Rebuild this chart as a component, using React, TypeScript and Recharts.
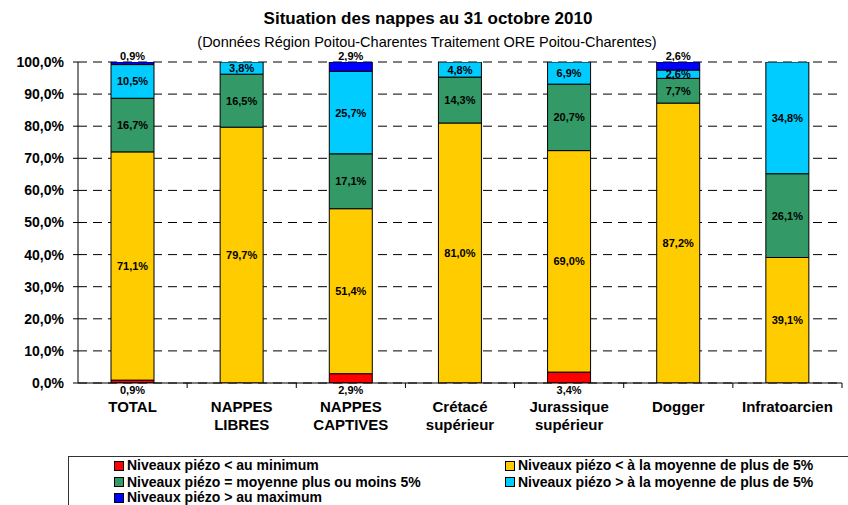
import { Bar, BarChart, CartesianGrid, LabelList, XAxis, YAxis } from 'recharts';

const categories = ['TOTAL', 'NAPPES\nLIBRES', 'NAPPES\nCAPTIVES', 'Crétacé\nsupérieur', 'Jurassique\nsupérieur', 'Dogger', 'Infratoarcien'];
const minimum = [0.9, 0, 2.9, 0, 3.4, 0, 0];
const belowAverage = [71.1, 79.7, 51.4, 81.0, 69.0, 87.2, 39.1];
const average = [16.7, 16.5, 17.1, 14.3, 20.7, 7.7, 26.1];
const aboveAverage = [10.5, 3.8, 25.7, 4.8, 6.9, 2.6, 34.8];
const maximum = [0.9, 0, 2.9, 0, 0, 2.6, 0];
const yTicks = [0, 10, 20, 30, 40, 50, 60, 70, 80, 90, 100];

const series = [
  { key: 'min', name: 'Niveaux piézo < au minimum', color: '#FF0000', values: minimum },
  { key: 'below', name: 'Niveaux piézo < à la moyenne de plus de 5%', color: '#FFCC00', values: belowAverage },
  { key: 'avg', name: 'Niveaux piézo = moyenne plus ou moins 5%', color: '#339966', values: average },
  { key: 'above', name: 'Niveaux piézo > à la moyenne de plus de 5%', color: '#00CCFF', values: aboveAverage },
  { key: 'max', name: 'Niveaux piézo > au maximum', color: '#0000FF', values: maximum },
];

const data = categories.map((name, i) => {
  const row: Record<string, any> = { name };
  series.forEach((s) => (row[s.key] = s.values[i]));
  return row;
});

const FONT = 'Arial, "Liberation Sans", sans-serif';
const W = 848;
const H = 505;
const PLOT_LEFT = 78;
const PLOT_RIGHT = 842;
const PLOT_TOP = 62;
const PLOT_BOTTOM = 383;
const BAND = (PLOT_RIGHT - PLOT_LEFT) / categories.length;

const fmt = (v: number) => v.toFixed(1).replace('.', ',') + '%';

function XTick(props: any) {
  const { x, y, payload } = props;
  const lines = String(payload.value).split('\n');
  return (
    <g>
      <line x1={x + BAND / 2} x2={x + BAND / 2} y1={PLOT_BOTTOM} y2={PLOT_BOTTOM + 5} stroke="#000" />
      <text x={x} y={y + 21} textAnchor="middle" fontFamily={FONT} fontWeight="bold" fontSize={15} fill="#000">
        {lines.map((l, i) => (
          <tspan key={i} x={x} dy={i === 0 ? 0 : 18}>
            {l}
          </tspan>
        ))}
      </text>
    </g>
  );
}

function makeLabel(kind: 'bottom' | 'top' | 'center') {
  return (props: any) => {
    const { x, y, width, height, value } = props;
    if (!value) return null;
    let ty = y + height / 2 + 4;
    if (kind === 'bottom') ty = PLOT_BOTTOM + 11;
    if (kind === 'top') ty = Math.min(y, PLOT_TOP) - 2;
    return (
      <text x={x + width / 2} y={ty} textAnchor="middle" fontFamily={FONT} fontWeight="bold" fontSize={11} fill="#000">
        {fmt(value)}
      </text>
    );
  };
}

function LegendBox() {
  const pos = [
    [113, 465],
    [504, 465],
    [113, 481.5],
    [504, 481.5],
    [113, 497],
  ];
  return (
    <div
      style={{
        position: 'absolute',
        left: 68,
        top: 456,
        width: 800,
        height: 60,
        border: '1px solid #333',
        boxSizing: 'border-box',
      }}
    >
      {series.map((s, i) => (
        <div
          key={s.key}
          style={{
            position: 'absolute',
            left: pos[i][0] - 68,
            top: pos[i][1] - 456 - 8,
            display: 'flex',
            alignItems: 'center',
            fontFamily: FONT,
            fontWeight: 'bold',
            fontSize: 14,
            whiteSpace: 'nowrap',
            lineHeight: '15px',
          }}
        >
          <span style={{ display: 'inline-block', width: 8, height: 8, background: s.color, border: '1px solid #000', marginRight: 3 }} />
          {s.name}
        </div>
      ))}
    </div>
  );
}

export default function App() {
  return (
    <div style={{ position: 'absolute', left: 0, top: 0, width: W, height: H, overflow: 'hidden', background: '#fff' }}>
      <div style={{ position: 'absolute', left: 0, top: 9, width: 856, textAlign: 'center', fontFamily: FONT, fontWeight: 'bold', fontSize: 17 }}>
        Situation des nappes au 31 octobre 2010
      </div>
      <div style={{ position: 'absolute', left: 0, top: 34, width: 854, textAlign: 'center', fontFamily: FONT, fontSize: 14.5 }}>
        (Données Région Poitou-Charentes Traitement ORE Poitou-Charentes)
      </div>
      <div style={{ position: 'absolute', left: 0, top: 0 }}>
        <BarChart
          width={W}
          height={H}
          data={data}
          barSize={43}
          margin={{ top: PLOT_TOP, right: W - PLOT_RIGHT, bottom: H - PLOT_BOTTOM - 60, left: 0 }}
        >
          <CartesianGrid vertical={false} stroke="#000" strokeDasharray="9 6" />
          <XAxis dataKey="name" height={60} interval={0} tick={<XTick />} tickLine={false} axisLine={{ stroke: '#000', strokeWidth: 1 }} />
          <YAxis
            width={PLOT_LEFT}
            domain={[0, 100]}
            ticks={yTicks}
            allowDataOverflow
            tickFormatter={fmt}
            tick={{ fontFamily: FONT, fontWeight: 'bold', fontSize: 14, fill: '#000' }}
            tickSize={5}
            tickMargin={9}
            tickLine={{ stroke: '#000' }}
            axisLine={{ stroke: '#000' }}
          />
          {series.map((s, i) => (
            <Bar key={s.key} dataKey={s.key} name={s.name} stackId="a" fill={s.color} stroke="#000" strokeWidth={1} isAnimationActive={false}>
              <LabelList dataKey={s.key} content={makeLabel(i === 0 ? 'bottom' : i === 4 ? 'top' : 'center')} />
            </Bar>
          ))}
        </BarChart>
      </div>
      <LegendBox />
    </div>
  );
}
